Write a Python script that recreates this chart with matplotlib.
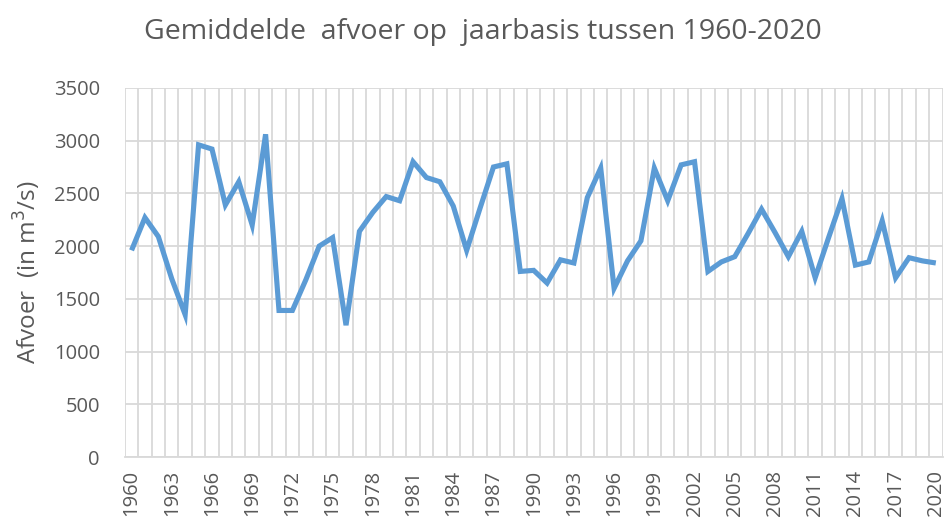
import matplotlib.pyplot as plt
import numpy as np

# jaarlijkse gemiddelde afvoer (m3/s)
years = list(range(1960, 2021))
afvoer = [
    1960, 2270, 2090, 1690, 1350, 2960, 2920, 2390, 2610, 2200,
    3060, 1390, 1390, 1680, 2000, 2080, 1250, 2140, 2320, 2470,
    2430, 2800, 2650, 2610, 2380, 1960, 2360, 2750, 2780, 1760,
    1770, 1650, 1870, 1840, 2460, 2740, 1600, 1860, 2050, 2740,
    2430, 2770, 2800, 1760, 1850, 1900, 2120, 2350, 2130, 1900,
    2140, 1700, 2080, 2450, 1820, 1850, 2240, 1700, 1890, 1860,
    1840,
]
tick_years = years[::3]

grey = '#595959'
plt.rcParams['font.family'] = ['Open Sans', 'DejaVu Sans']

fig = plt.figure(figsize=(9.53, 5.2), dpi=100)
ax = fig.add_axes([0.131, 0.121, 0.858, 0.710])

x = np.arange(len(years))
ax.plot(x, afvoer, color='#5B9BD5', linewidth=3.7, solid_joinstyle='miter',
        solid_capstyle='butt', zorder=3)

ax.set_xlim(-0.5, len(years) - 0.5)
ax.set_ylim(0, 3500)
ax.set_yticks(range(0, 3501, 500))

# gridlijnen tussen de categorieen (zoals Excel)
ax.set_xticks(np.arange(-0.5, len(years)), minor=True)
ax.grid(True, which='minor', axis='x', color='#d9d9d9', linewidth=1.3)
ax.grid(True, which='major', axis='y', color='#d9d9d9', linewidth=1.3)
ax.set_axisbelow(True)

ax.set_xticks([years.index(t) for t in tick_years])
ax.set_xticklabels([str(t) for t in tick_years], rotation=90, va='top')

ax.tick_params(axis='both', which='both', length=0, colors=grey)
ax.tick_params(axis='y', pad=18, labelsize=14.5)
ax.tick_params(axis='x', pad=9, labelsize=14.5)

for side in ['top', 'right', 'left']:
    ax.spines[side].set_visible(False)
ax.spines['bottom'].set_color('#d9d9d9')
ax.spines['bottom'].set_linewidth(1.3)

ax.set_ylabel('Afvoer  (in m$^3$/s)', color=grey, fontsize=17.5, labelpad=8)
fig.suptitle('Gemiddelde  afvoer op  jaarbasis tussen 1960-2020', color=grey,
             fontsize=20.5, x=0.507, y=0.965, va='top')

fig.savefig('out.png', dpi=100)
